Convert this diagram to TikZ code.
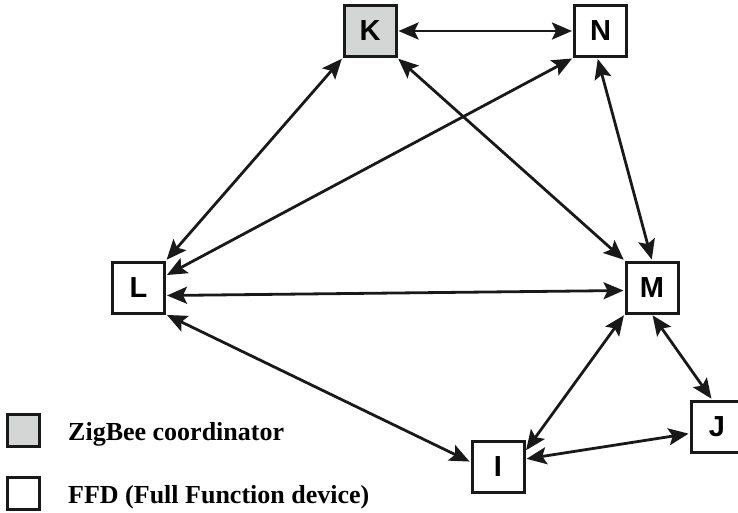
\documentclass[tikz,border=0pt]{standalone}
\usepackage{fontspec}
\setmainfont{Liberation Serif}
\newfontfamily\boxfont{Liberation Sans}
\usetikzlibrary{arrows.meta}
\definecolor{coordgray}{RGB}{212,214,214}
\tikzset{
  dev/.style={draw=black!90, line width=3pt, minimum width=52pt, minimum height=51pt,
    inner sep=0pt, fill=white, font=\boxfont\bfseries\fontsize{29}{29}\selectfont},
  coord/.style={dev, fill=coordgray},
  link/.style={line width=2.8pt, draw=black!90,
    arrows={Stealth[length=20pt,width=17pt,inset=4pt]-Stealth[length=20pt,width=17pt,inset=4pt]},
    shorten <=1pt, shorten >=1pt},
  legbox/.style={draw=black!90, line width=3pt, minimum size=32pt, inner sep=0pt},
  legtext/.style={anchor=base west, inner sep=0pt, font=\bfseries\fontsize{26}{26}\selectfont}
}
\begin{document}
\begin{tikzpicture}[x=1pt,y=-1pt]
\useasboundingbox (0,0) rectangle (738,512);
\clip (0,0) rectangle (738,512);

% devices
\node[coord] (K) at (370,31) {K};
\node[dev] (N) at (600.5,31) {N};
\node[dev] (L) at (138.5,287.5) {L};
\node[dev] (M) at (652,287.5) {M};
\node[dev] (J) at (717,426.5) {J};
\node[dev] (I) at (498,467) {I};

% links
\draw[link] (K.east) -- (N.west);
\draw[link] (K.south west) -- (L.north east);
\draw[link] (K.south east) -- (M.north west);
\draw[link] (N.south west) -- ([yshift=12pt]L.east);
\draw[link] ([xshift=-3pt]N.south) -- (M.north);
\draw[link] ([yshift=-8pt]L.east) -- ([yshift=-3pt]M.west);
\draw[link] (L.south east) -- ([yshift=5pt]I.west);
\draw[link] (M.south west) -- ([yshift=-11pt]I.north east);
\draw[link] (M.south) -- ([xshift=-5pt]J.north);
\draw[link] ([yshift=8pt]I.east) -- ([yshift=-7pt]J.west);

% legend
\node[legbox, fill=coordgray] (legK) at (23.5,430.5) {};
\node[legbox, fill=white] (legF) at (23.5,493.5) {};
\node[legtext] (legKt) at (68,440) {ZigBee coordinator};
\node[legtext] (legFt) at (68,503) {FFD (Full Function device)};
\end{tikzpicture}
\end{document}
